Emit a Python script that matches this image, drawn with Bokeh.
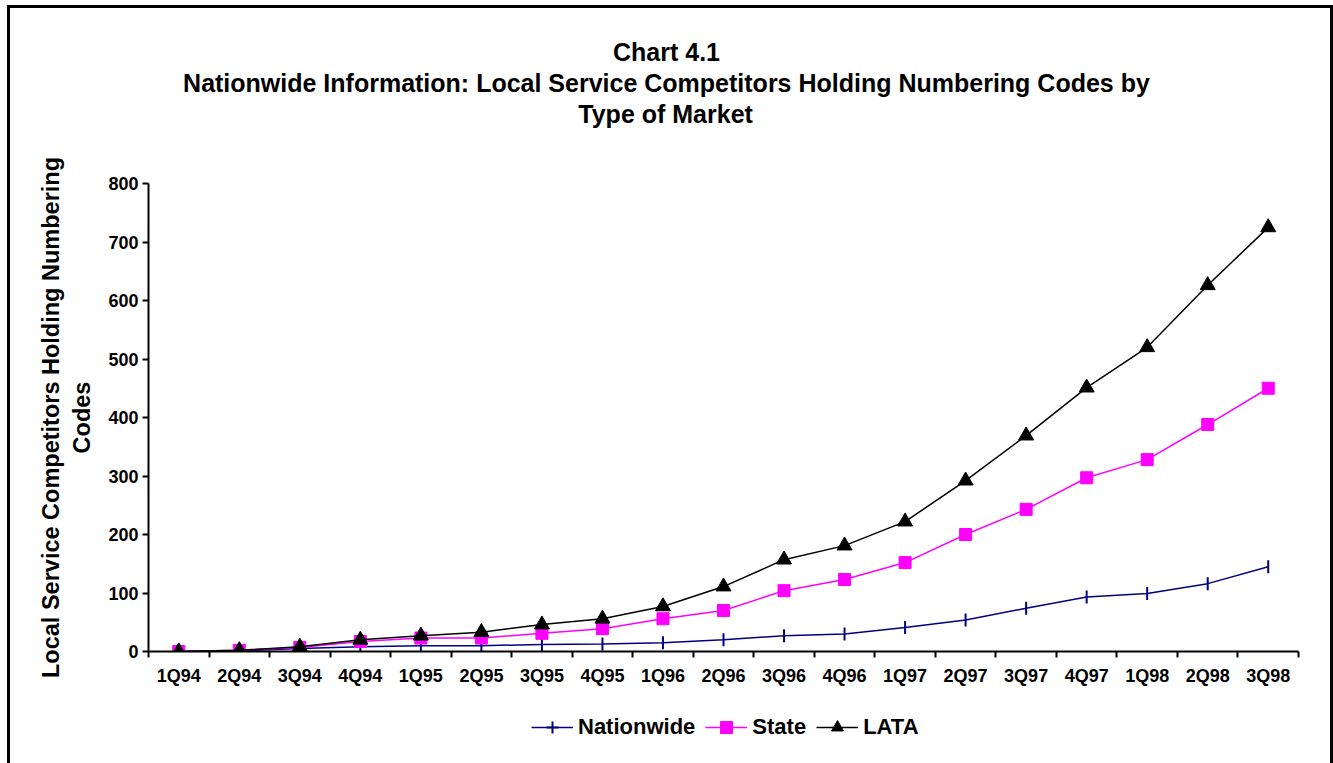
import math
from bokeh.plotting import figure
from bokeh.layouts import column
from bokeh.models import Range1d, FixedTicker, Legend, LegendItem, Title
from bokeh.embed import file_html
from bokeh.resources import INLINE

quarters = ["1Q94", "2Q94", "3Q94", "4Q94", "1Q95", "2Q95", "3Q95", "4Q95",
            "1Q96", "2Q96", "3Q96", "4Q96", "1Q97", "2Q97", "3Q97", "4Q97",
            "1Q98", "2Q98", "3Q98"]
nationwide = [0, 1, 5, 8, 10, 10, 12, 13, 15, 20, 27, 30, 41, 54, 74, 93, 99, 116, 145]
state = [0, 2, 7, 17, 23, 23, 31, 39, 56, 70, 104, 123, 152, 200, 243, 297, 328, 388, 450]
lata = [0, 2, 8, 20, 27, 33, 46, 56, 77, 111, 157, 181, 222, 292, 369, 451, 520, 626, 725]
y_ticks = [0, 100, 200, 300, 400, 500, 600, 700, 800]
title_lines = ["Chart 4.1",
               "Nationwide Information: Local Service Competitors Holding Numbering Codes by",
               "Type of Market"]
y_title = "Local Service Competitors Holding Numbering\nCodes"
series_names = ["Nationwide", "State", "LATA"]

FONT = "Liberation Sans"
TITLE_PX = 25

# Arial/Liberation Sans Bold advance widths (per 1000 em) for centring title lines
_W = {" ": 278, ":": 333, ".": 278, "C": 722, "I": 278, "L": 611, "S": 667, "H": 722,
      "N": 722, "T": 611, "M": 833, "a": 556, "b": 611, "c": 556, "d": 611, "e": 556,
      "f": 333, "g": 611, "h": 611, "i": 278, "k": 556, "l": 278, "m": 889, "n": 611,
      "o": 611, "p": 611, "r": 389, "s": 556, "t": 333, "u": 611, "v": 556, "w": 778,
      "y": 556}


def text_width(s, px):
    return sum(_W.get(ch, 556) for ch in s) * px / 1000.0


n = len(quarters)
xs = [i + 0.5 for i in range(n)]

W = 1320
H1, H2 = 692, 63
BL, BR, BT, BB = 138, 32, 175, 49
FRAME_LEFT = 138  # px from figure left
TITLE_CENTER = 656  # px from figure left

p = figure(width=W, height=H1, output_backend="svg", toolbar_location=None,
           x_range=Range1d(0, n), y_range=Range1d(0, 800),
           min_border_left=BL, min_border_right=BR, min_border_top=BT,
           min_border_bottom=BB)
p.title_location = None
p.outline_line_color = None
p.xgrid.visible = False
p.ygrid.visible = False
p.background_fill_color = "white"
p.border_fill_color = "white"

# x axis
xa = p.xaxis[0]
xa.ticker = FixedTicker(ticks=xs, minor_ticks=list(range(n + 1)))
xa.major_label_overrides = {x: q for x, q in zip(xs, quarters)}
xa.major_tick_out = 0
xa.major_tick_in = 0
xa.minor_tick_out = 6
xa.minor_tick_in = 0
xa.minor_tick_line_width = 2
xa.minor_tick_line_color = "black"
xa.axis_line_width = 2
xa.axis_line_color = "black"
xa.major_label_standoff = 8
xa.major_label_text_font = FONT
xa.major_label_text_font_style = "bold"
xa.major_label_text_font_size = "18px"
xa.major_label_text_color = "black"

# y axis
ya = p.yaxis[0]
ya.ticker = FixedTicker(ticks=y_ticks, minor_ticks=[])
ya.major_tick_out = 6
ya.major_tick_in = 0
ya.major_tick_line_width = 2
ya.major_tick_line_color = "black"
ya.minor_tick_out = 0
ya.minor_tick_in = 0
ya.axis_line_width = 2
ya.axis_line_color = "black"
ya.major_label_standoff = 4
ya.major_label_text_font = FONT
ya.major_label_text_font_style = "bold"
ya.major_label_text_font_size = "18px"
ya.major_label_text_color = "black"
ya.axis_label = y_title
ya.axis_label_text_font = FONT
ya.axis_label_text_font_style = "bold"
ya.axis_label_text_font_size = "23.5px"
ya.axis_label_text_color = "black"
ya.axis_label_standoff = 10

# series
styles = [dict(color="#000080", marker="dash", size=13, angle=math.pi / 2, lw=2),
          dict(color="#FF00FF", marker="square", size=12, angle=0, lw=1),
          dict(color="black", marker="triangle", size=15, angle=0, lw=1)]
series = [nationwide, state, lata]
for vals, st in zip(series, styles):
    p.line(xs, vals, line_color=st["color"], line_width=1.5)
    p.scatter(xs, vals, marker=st["marker"], size=st["size"], angle=st["angle"],
              fill_color=st["color"], line_color=st["color"], line_width=st["lw"])

# title lines, stacked outward from the frame (spacer first)
p.add_layout(Title(text=" ", text_font_size="48px", standoff=0), "above")
for txt in reversed(title_lines):
    off = TITLE_CENTER - FRAME_LEFT - text_width(txt, TITLE_PX) / 2
    p.add_layout(Title(text=txt, align="left", offset=off, standoff=0.5,
                       text_font=FONT, text_font_style="bold",
                       text_font_size=f"{TITLE_PX}px", text_color="black"), "above")

# legend strip (its frame aligns with the chart frame; series drawn off-range)
q = figure(width=W, height=H2, output_backend="svg", toolbar_location=None,
           x_range=Range1d(-20, -19), y_range=Range1d(-20, -19),
           x_axis_location=None, y_axis_location=None,
           min_border_left=0, min_border_right=0, min_border_top=0,
           min_border_bottom=0)
q.title_location = None
q.outline_line_color = None
q.grid.visible = False
# in the legend the Nationwide tick is shown as a cross over the horizontal line
legend_markers = ["cross", "square", "triangle"]
items = []
for name, vals, st, mk in zip(series_names, series, styles, legend_markers):
    r1 = q.line(xs, vals, line_color=st["color"], line_width=1.5)
    r2 = q.scatter(xs, vals, marker=mk, size=st["size"],
                   fill_color=st["color"], line_color=st["color"], line_width=st["lw"])
    items.append(LegendItem(label=name, renderers=[r1, r2]))

legend = Legend(items=items, orientation="horizontal", location=(383, 21))
legend.label_text_font = FONT
legend.label_text_font_style = "bold"
legend.label_text_font_size = "22px"
legend.label_text_color = "black"
legend.glyph_width = 42
legend.glyph_height = 30
legend.label_standoff = 5
legend.spacing = 10
legend.padding = 0
legend.margin = 0
legend.border_line_color = None
legend.background_fill_alpha = 0
q.add_layout(legend, "center")

layout = column(p, q, spacing=0,
                styles={"margin-left": "7px", "margin-top": "5px",
                        "border-left": "3px solid black", "border-top": "3px solid black",
                        "border-right": "3px solid black"})

open("out.html", "w").write(file_html(layout, INLINE))
